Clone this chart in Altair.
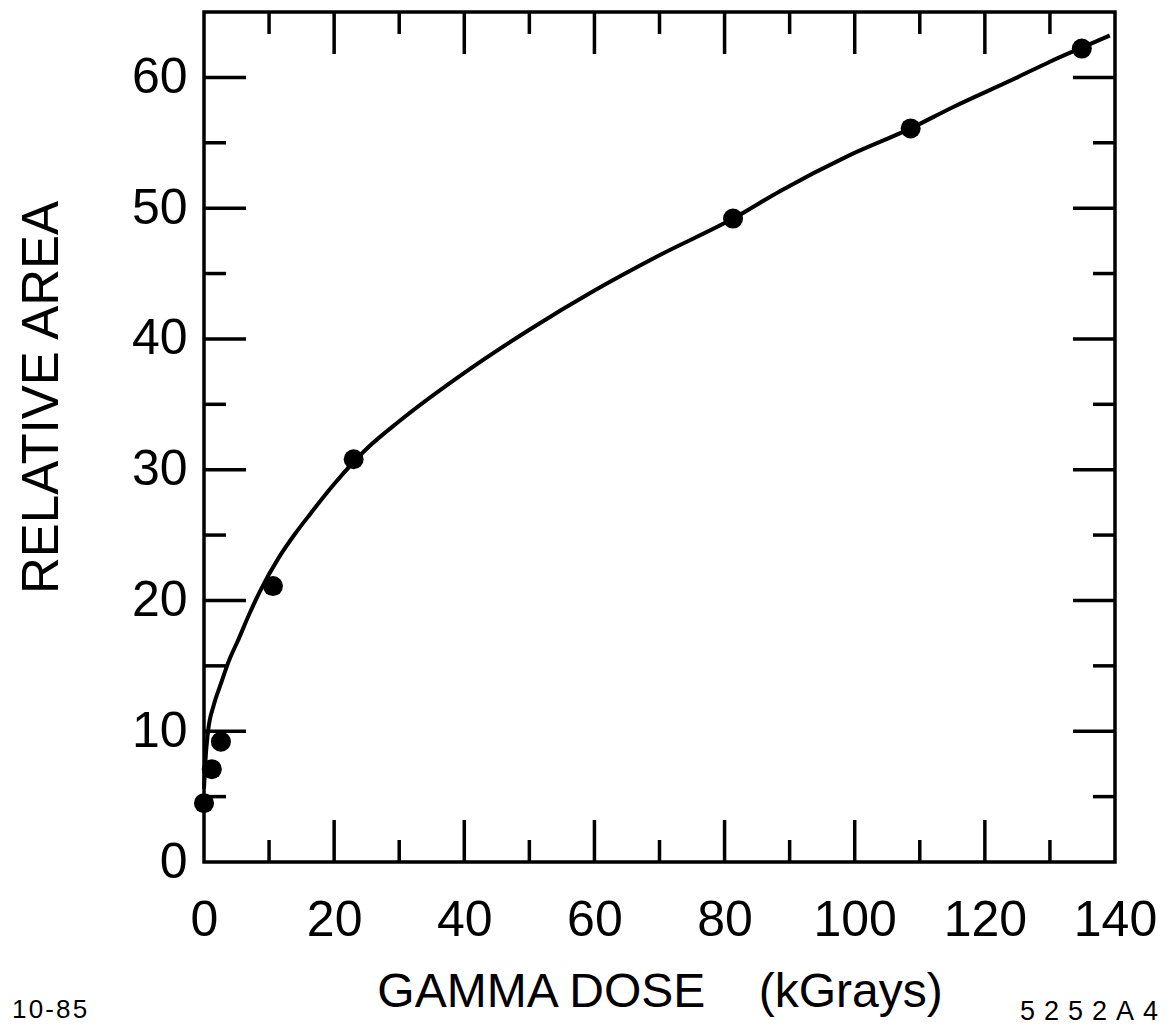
import altair as alt
import pandas as pd

# measured data points
dose_pts = [0.0, 1.2, 2.6, 10.6, 23.0, 81.3, 108.6, 134.9]
area_pts = [4.5, 7.1, 9.2, 21.1, 30.8, 49.2, 56.1, 62.2]

# fitted curve
curve_dose = [0.0, 0.2, 0.6, 1.5, 2.5, 4.0, 5.1, 7.0, 8.6, 11.4, 14.0, 16.3, 20.0,
              25.0, 30.0, 40.0, 50.0, 60.0, 70.0, 81.3, 88.5, 99.0, 108.6, 115.0,
              125.0, 130.0, 135.0, 139.2]
curve_area = [5.6, 7.6, 9.9, 12.0, 13.5, 15.6, 16.8, 19.0, 20.7, 23.2, 25.1, 26.6, 28.9,
              31.6, 33.7, 37.4, 40.7, 43.7, 46.4, 49.2, 51.3, 54.0, 56.1, 57.7,
              60.0, 61.2, 62.3, 63.2]

x_labels = [0, 20, 40, 60, 80, 100, 120, 140]
y_labels = [0, 10, 20, 30, 40, 50, 60]
x_major = [20, 40, 60, 80, 100, 120]
x_minor = [10, 30, 50, 70, 90, 110, 130]
y_major = [10, 20, 30, 40, 50, 60]
y_minor = [5, 15, 25, 35, 45, 55]

W, H = 911, 850
FONT = "Liberation Sans"
MAJ, MIN = 42, 22

xs = alt.Scale(domain=[0, 140], nice=False, zero=False)
ys = alt.Scale(domain=[0, 65], nice=False, zero=False)

x_enc = alt.X("dose:Q", scale=xs, title="GAMMA DOSE\u00a0\u00a0\u00a0\u00a0(kGrays)",
              axis=alt.Axis(values=x_labels, ticks=False, domain=False, grid=False,
                            labelFontSize=50, labelFont=FONT, labelColor="black",
                            labelPadding=33, labelFlush=False,
                            titleFontSize=48, titleFont=FONT, titleFontWeight="normal",
                            titleColor="black", titlePadding=23))
y_enc = alt.Y("area:Q", scale=ys, title="RELATIVE AREA",
              axis=alt.Axis(values=y_labels, ticks=False, domain=False, grid=False,
                            labelFontSize=50, labelFont=FONT, labelColor="black",
                            labelPadding=17, labelFlush=False,
                            titleFontSize=51, titleFont=FONT, titleFontWeight="normal",
                            titleColor="black", titlePadding=63, titleY=385))

pts_df = pd.DataFrame({"dose": dose_pts, "area": area_pts})
curve_df = pd.DataFrame({"dose": curve_dose, "area": curve_area})

line = alt.Chart(curve_df).mark_line(color="black", strokeWidth=4,
                                     interpolate="monotone").encode(x=x_enc, y=y_enc)
points = alt.Chart(pts_df).mark_circle(color="black", opacity=1, size=400).encode(x=x_enc, y=y_enc)

layers = [line, points]


def yticks(vals, side, length):
    df = pd.DataFrame({"area": vals})
    if side == "left":
        xa, xb = 0, length
    else:
        xa, xb = W - length, W
    return alt.Chart(df).mark_rule(color="black", strokeWidth=3.5).encode(
        y=y_enc, x=alt.value(xa), x2=alt.value(xb))


def xticks(vals, side, length):
    df = pd.DataFrame({"dose": vals})
    if side == "bottom":
        ya, yb = H - length, H
    else:
        ya, yb = 0, length
    return alt.Chart(df).mark_rule(color="black", strokeWidth=3.5).encode(
        x=x_enc, y=alt.value(ya), y2=alt.value(yb))


for side in ["left", "right"]:
    layers.append(yticks(y_major, side, MAJ))
    layers.append(yticks(y_minor, side, MIN))
for side in ["bottom", "top"]:
    layers.append(xticks(x_major, side, MAJ))
    layers.append(xticks(x_minor, side, MIN))

note_df = pd.DataFrame({"t": ["1\u200a0\u200a-\u200a8\u200a5"]})
note_left = alt.Chart(note_df).mark_text(font=FONT, fontSize=26, align="left",
                                         baseline="middle", color="black").encode(
    text="t:N", x=alt.value(-192), y=alt.value(998))
code_df = pd.DataFrame({"t": ["5\u20042\u20045\u20042\u2004A\u20044"]})
note_right = alt.Chart(code_df).mark_text(font=FONT, fontSize=27, align="right",
                                          baseline="middle", color="black").encode(
    text="t:N", x=alt.value(954), y=alt.value(1000))
layers += [note_left, note_right]

chart = alt.layer(*layers).properties(
    width=W, height=H,
    background="white",
    autosize=alt.AutoSizeParams(type="none"),
    padding={"left": 196, "top": 4, "right": 49, "bottom": 163},
).configure_view(stroke="black", strokeWidth=3.5)

chart.save("out.html", embed_options={"renderer": "svg", "actions": False})
